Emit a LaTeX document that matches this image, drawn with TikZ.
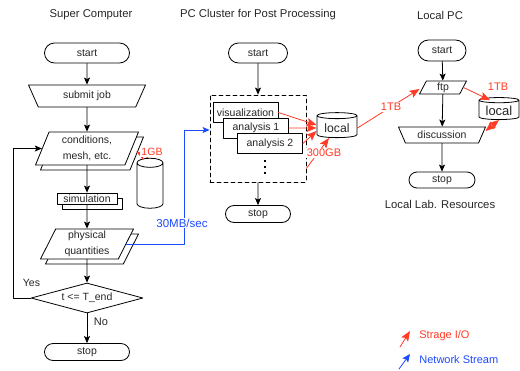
\documentclass[tikz,border=0pt]{standalone}
\usepackage{fontspec}
\setmainfont{Liberation Sans}
\usetikzlibrary{shapes.geometric,shapes.misc,shadows,arrows.meta}
\definecolor{iored}{RGB}{255,59,38}
\definecolor{netblue}{RGB}{28,74,255}
\begin{document}
\begin{tikzpicture}[x=1pt,y=-1pt,line join=round,line cap=round,
    >={Stealth[length=7pt,width=6pt,inset=1.5pt]},thick]
    \tikzset{every node/.style={text=black!85,font=\fontsize{10.5}{15.5}\selectfont,inner sep=0pt},
        title/.style={font=\fontsize{11.3}{13}\selectfont},
        term/.style={draw,fill=white,rounded rectangle,minimum height=20pt},
        manual/.style={draw,fill=white,trapezium,shape border rotate=180,trapezium stretches body},
        data/.style={draw,fill=white,trapezium,trapezium stretches body,align=center},
        proc/.style={draw,fill=white,rectangle},
        shadowed/.style={copy shadow={shadow xshift=5pt,shadow yshift=-5pt,draw=black,fill=white,thick}},
        disk/.style={draw,fill=white,cylinder,shape border rotate=90},
        io/.style={draw=iored,-{Stealth[length=10pt,width=8pt,inset=2pt]}},
        iolbl/.style={text=iored,fill=white,inner sep=1pt,font=\fontsize{11}{13}\selectfont},
        net/.style={draw=netblue,->}}
    \useasboundingbox (0,0) rectangle (520,370);
    % titles
    \node[title] (sctitle) at (91,15) {Super Computer};
    \node[title] (pctitle) at (258,15) {PC Cluster for Post Processing};
    \node[title] (lptitle) at (440,15) {Local PC};
    \node[title] (labtitle) at (440,204) {Local Lab. Resources};
    % super computer
    \node[term,minimum width=85pt] (sstart) at (87,53) {start};
    \node[manual,minimum width=117pt,minimum height=22pt,trapezium angle=45] (submit) at (87,96) {submit job};
    \node[data,shadowed,minimum width=103pt,minimum height=33pt,
        trapezium left angle=61,trapezium right angle=119] (cond) at (87,148.5) {conditions,\\mesh, etc.};
    \node[proc,shadowed,minimum width=60pt,minimum height=11pt] (sim) at (87,198.5) {simulation};
    \node[data,shadowed,minimum width=93pt,minimum height=30pt,
        trapezium left angle=59,trapezium right angle=121] (phys) at (87,244) {physical\\quantities};
    \node[draw,fill=white,diamond,aspect=3.7,minimum width=112pt,minimum height=30pt] (dec) at (87,298) {t <= T\_end};
    \node[term,minimum width=85pt,minimum height=17pt] (sstop) at (87,352) {stop};
    \node[disk,inner xsep=13pt,minimum width=26pt,minimum height=50pt,aspect=0.35] (sdisk) at (150,188) {};
    \node (yeslbl) at (31.5,283) {Yes};
    \node[font=\fontsize{11}{13}\selectfont] (nolbl) at (101,322) {No};
    \foreach \a/\b in {sstart/submit,submit/cond,cond/sim,sim/phys,phys/dec,dec/sstop}
        \draw[->] (\a) -- (\b);
    \coordinate (loopx) at (13,0);
    \draw[->] (dec.west) -- (dec.west -| loopx) -- (cond.west -| loopx) -- (cond.west);
    \draw[io] ([xshift=-2pt]sdisk.north) -- ([xshift=4pt,yshift=-3pt]cond.east);
    \node[iolbl,font=\fontsize{10.5}{13}\selectfont] (gblbl) at (152,152) {1GB};
    % pc cluster
    \node[term,minimum width=59pt] (cstart) at (258,53) {start};
    \node[draw,dash pattern=on 4pt off 3pt,minimum width=96pt,minimum height=87pt] (box) at (258,138.5) {};
    \node[proc,minimum width=65pt,minimum height=20pt] (vis) at (245.5,112.5) {visualization};
    \node[proc,minimum width=65pt,minimum height=20pt] (ana1) at (256,128) {analysis 1};
    \node[proc,minimum width=65pt,minimum height=20pt] (ana2) at (270,143.5) {analysis 2};
    \draw[line width=1.6pt,line cap=butt,dash pattern=on 2pt off 4pt] (265,160) -- (265,177);
    \node[term,minimum width=65pt,minimum height=17pt] (cstop) at (258,214) {stop};
    \node[disk,inner xsep=7.5pt,minimum width=40pt,minimum height=25pt,aspect=0.15,
        font=\fontsize{12.2}{14}\selectfont] (clocal) at (337,128) {local};
    \draw[->] (cstart) -- (box);
    \draw[->] (box) -- (cstop);
    \draw[io] (vis.east) -- ([yshift=3pt]clocal.west);
    \draw[io] (ana1.east) -- (clocal.west);
    \draw[io] (ana2.east) -- ([yshift=-3pt]clocal.west);
    \draw[io] ([yshift=14pt]box.south east) -- ([xshift=-8pt]clocal.south);
    \node[iolbl] (cgblbl) at (324,153) {300GB};
    % network
    \coordinate (netbend) at (184,130);
    \draw[net] (phys.east) -| (netbend) -- (netbend -| box.west);
    \node[iolbl,text=netblue,font=\fontsize{11.5}{13}\selectfont] (netlbl) at (182,223) {30MB/sec};
    % local pc
    \node[term,minimum width=48pt,minimum height=21pt] (lstart) at (442,50.5) {start};
    \node[data,minimum width=47pt,minimum height=13pt,
        trapezium left angle=55,trapezium right angle=125] (ftp) at (443,87.5) {ftp};
    \node[manual,minimum width=87pt,minimum height=16pt,trapezium angle=48] (disc) at (442,135) {discussion};
    \node[term,minimum width=66pt,minimum height=16pt] (lstop) at (442,180) {stop};
    \node[disk,inner xsep=6.5pt,minimum width=40pt,minimum height=22pt,aspect=0.13,
        font=\fontsize{13}{14}\selectfont] (llocal) at (499,111) {local};
    \foreach \a/\b in {lstart/ftp,ftp/disc,disc/lstop}
        \draw[->] (\a) -- (\b);
    \draw[io] (clocal.east) -- ([xshift=-3pt,yshift=-1.5pt]ftp.west);
    \node[iolbl] (tblbl) at (391,107) {1TB};
    \draw[io] (ftp.east) -- ([xshift=-9pt,yshift=-3pt]llocal.north);
    \node[iolbl] (tblbl2) at (498,87) {1TB};
    \draw[io,{Stealth[length=10pt,width=8pt,inset=2pt]}-{Stealth[length=10pt,width=8pt,inset=2pt]}]
        ([xshift=3pt,yshift=4pt]disc.east) -- (llocal.south);
    % legend
    \coordinate (ioa) at (400,347);
    \coordinate (iob) at (410,331);
    \coordinate (neta) at (399,369);
    \coordinate (netb) at (410,354);
    \draw[io] (ioa) -- (iob);
    \draw[net,-{Stealth[length=8pt,width=7pt,inset=1.5pt]}] (neta) -- (netb);
    \node[anchor=west,text=iored,font=\fontsize{11}{13}\selectfont] (iolegend) at (419,336) {Strage I/O};
    \node[anchor=west,text=netblue,font=\fontsize{11}{13}\selectfont] (netlegend) at (419,360) {Network Stream};
\end{tikzpicture}
\end{document}
